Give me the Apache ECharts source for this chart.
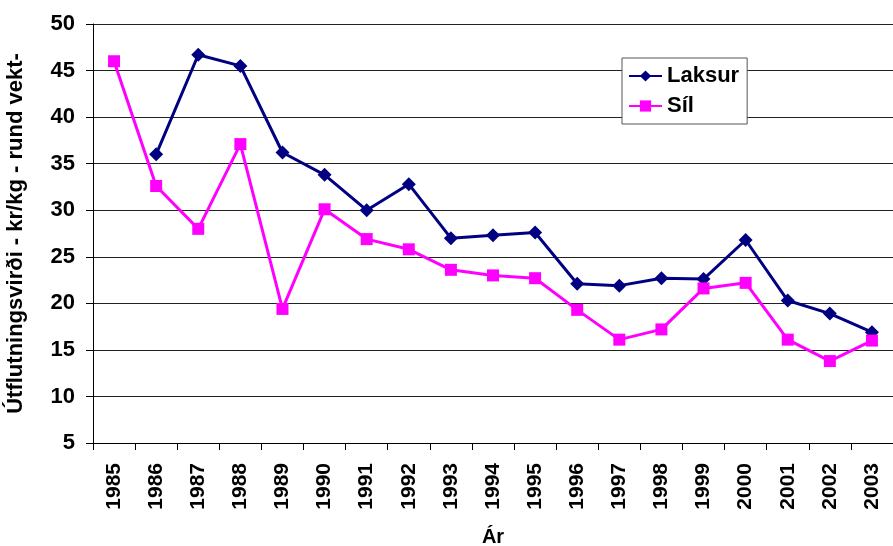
<html lang="is">
<head>
    <meta charset="UTF-8">
    <title>Útflutningsvirði</title>
    <script src="https://cdn.jsdelivr.net/npm/echarts@6.0.0/dist/echarts.min.js"></script>
</head>
<body style="margin:0;background:#fff">
    <div id="main" style="width: 893px;height:546px;"></div>
    <script type="text/javascript">
        // gögn lesin af myndinni
        var years = ['1985', '1986', '1987', '1988', '1989', '1990', '1991', '1992', '1993', '1994',
                     '1995', '1996', '1997', '1998', '1999', '2000', '2001', '2002', '2003'];
        var laksur = [null, 36.0, 46.7, 45.5, 36.2, 33.8, 30.0, 32.8, 27.0, 27.3,
                      27.6, 22.1, 21.9, 22.7, 22.6, 26.8, 20.3, 18.9, 16.9];
        var sil = [46.0, 32.6, 28.0, 37.1, 19.4, 30.1, 26.9, 25.8, 23.6, 23.0,
                   22.7, 19.3, 16.1, 17.2, 21.6, 22.2, 16.1, 13.8, 16.0];

        var myChart = echarts.init(document.getElementById('main'));
        var font = 'Arial, "Liberation Sans", sans-serif';

        var option = {
            animation: false,
            backgroundColor: '#fff',
            grid: { left: 93, right: 0, top: 24, bottom: 103, outerBoundsMode: 'none', containLabel: false },
            legend: {
                orient: 'vertical',
                left: 622,
                top: 58,
                width: 126,
                padding: [7, 8, 7, 6],
                itemGap: 8,
                itemWidth: 33,
                itemHeight: 14,
                borderColor: '#555',
                borderWidth: 1,
                backgroundColor: '#fff',
                textStyle: { fontFamily: font, fontWeight: 'bold', fontSize: 22, color: '#000' },
                data: ['Laksur', 'Síl']
            },
            xAxis: {
                type: 'category',
                data: years,
                boundaryGap: true,
                name: 'Ár',
                nameLocation: 'middle',
                nameGap: 84,
                nameTextStyle: { fontFamily: font, fontWeight: 'bold', fontSize: 20, color: '#000' },
                axisLine: { lineStyle: { color: '#000', width: 1 } },
                axisTick: { show: true, length: 7, lineStyle: { color: '#000' } },
                axisLabel: {
                    rotate: 90,
                    interval: 0,
                    margin: 20,
                    fontFamily: font, fontWeight: 'bold', fontSize: 21, color: '#000'
                }
            },
            yAxis: {
                type: 'value',
                min: 5,
                max: 50,
                interval: 5,
                name: 'Útflutningsvirði - kr/kg - rund vekt-',
                nameLocation: 'middle',
                nameGap: 66,
                nameTextStyle: { fontFamily: font, fontWeight: 'bold', fontSize: 22, color: '#000' },
                axisLine: { show: true, lineStyle: { color: '#000', width: 1 } },
                axisTick: { show: true, length: 7, lineStyle: { color: '#000' } },
                axisLabel: { margin: 18, fontFamily: font, fontWeight: 'bold', fontSize: 22, color: '#000' },
                splitLine: { lineStyle: { color: '#222', width: 1 } }
            },
            series: [{
                name: 'Laksur',
                type: 'line',
                data: laksur,
                symbol: 'diamond',
                symbolSize: 14,
                color: '#000080',
                lineStyle: { width: 3, color: '#000080' },
                itemStyle: { color: '#000080' }
            }, {
                name: 'Síl',
                type: 'line',
                data: sil,
                symbol: 'rect',
                symbolSize: 12,
                color: '#ff00ff',
                lineStyle: { width: 3, color: '#ff00ff' },
                itemStyle: { color: '#ff00ff' }
            }]
        };
        myChart.setOption(option);
    </script>
</body>
</html>
